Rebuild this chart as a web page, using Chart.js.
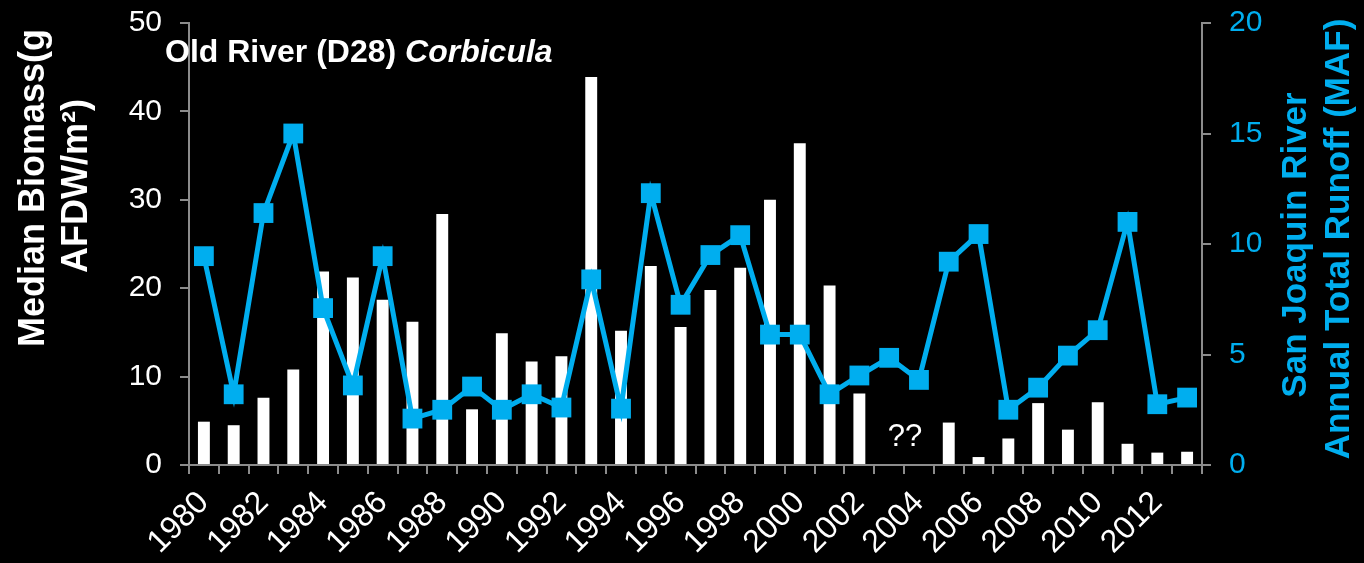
<!DOCTYPE html>
<html>
<head>
<meta charset="utf-8">
<script src="https://cdn.jsdelivr.net/npm/chart.js@4"></script>
<style>
  html, body { margin: 0; padding: 0; background: #000; }
  #wrap { width: 1364px; height: 563px; }
</style>
</head>
<body>
<div id="wrap"><canvas id="chart" width="1364" height="563"></canvas></div>
<script>
// ===== Old River (D28) Corbicula — biomass vs San Joaquin runoff =====
const years = [1980, 1981, 1982, 1983, 1984, 1985, 1986, 1987, 1988, 1989,
  1990, 1991, 1992, 1993, 1994, 1995, 1996, 1997, 1998, 1999,
  2000, 2001, 2002, 2003, 2004, 2005, 2006, 2007, 2008, 2009,
  2010, 2011, 2012, 2013];

// median biomass (g AFDW/m²), left axis; 2003-2004 missing ("??")
const biomass = [4.9, 4.5, 7.6, 10.8, 21.9, 21.2, 18.7, 16.2, 28.4, 6.3,
  14.9, 11.7, 12.3, 43.9, 15.2, 22.5, 15.6, 19.8, 22.3, 30.0,
  36.4, 20.3, 8.1, null, null, 4.8, 0.9, 3.0, 7.0, 4.0,
  7.1, 2.4, 1.4, 1.5];

// San Joaquin River annual total runoff (MAF), right axis
const runoff = [9.45, 3.2, 11.4, 15.0, 7.1, 3.6, 9.45, 2.1, 2.5, 3.55,
  2.5, 3.2, 2.6, 8.4, 2.55, 12.3, 7.25, 9.5, 10.4, 5.9,
  5.9, 3.2, 4.05, 4.85, 3.85, 9.2, 10.45, 2.5, 3.5, 4.95,
  6.1, 11.0, 2.75, 3.05];

const leftTicks = [0, 10, 20, 30, 40, 50];
const rightTicks = [0, 5, 10, 15, 20];

const FONT = '"Liberation Sans", Arial, sans-serif';
const BLUE = '#00AEEF';
const AXIS = '#8c8c8c';

// vertical axes: fixed width, no extra padding so the plot top sits at y=23
function fixVertical(width) {
  return s => {
    s.width = width;
    s.paddingTop = 0;
    s.paddingBottom = 0;
  };
}

const textPlugin = {
  id: 'texts',
  afterDraw(chart) {
    const ctx = chart.ctx;
    ctx.save();
    // chart title
    ctx.fillStyle = '#fff';
    ctx.textBaseline = 'alphabetic';
    ctx.textAlign = 'left';
    ctx.font = 'bold 32px ' + FONT;
    const t1 = 'Old River (D28) ';
    ctx.fillText(t1, 165, 62);
    const w1 = ctx.measureText(t1).width;
    ctx.font = 'italic bold 32px ' + FONT;
    ctx.fillText('Corbicula', 165 + w1, 62);

    // missing data note
    ctx.font = '31px ' + FONT;
    ctx.textAlign = 'center';
    ctx.fillText('??', 905, 446);

    // left axis title
    ctx.font = 'bold 36px ' + FONT;
    ctx.textBaseline = 'middle';
    ctx.save();
    ctx.translate(34, 188);
    ctx.rotate(-Math.PI / 2);
    ctx.fillText('Median Biomass(g', 0, 0);
    ctx.restore();
    ctx.save();
    ctx.translate(77, 186);
    ctx.rotate(-Math.PI / 2);
    ctx.fillText('AFDW/m²)', 0, 0);
    ctx.restore();

    // right axis title
    ctx.fillStyle = BLUE;
    ctx.font = 'bold 35px ' + FONT;
    ctx.save();
    ctx.translate(1296, 245);
    ctx.rotate(-Math.PI / 2);
    ctx.fillText('San Joaquin River', 0, 0);
    ctx.restore();
    ctx.save();
    ctx.translate(1339, 239);
    ctx.rotate(-Math.PI / 2);
    ctx.fillText('Annual Total Runoff (MAF)', 0, 0);
    ctx.restore();
    ctx.restore();
  }
};

const ctx = document.getElementById('chart').getContext('2d');
new Chart(ctx, {
  data: {
    labels: years.map(String),
    datasets: [{
      type: 'line',
      label: 'Runoff',
      data: runoff,
      yAxisID: 'y2',
      borderColor: BLUE,
      backgroundColor: BLUE,
      borderWidth: 5,
      pointStyle: 'rect',
      pointRadius: 14,
      pointBorderWidth: 0,
      pointBackgroundColor: BLUE,
      tension: 0,
      order: 0
    }, {
      type: 'bar',
      label: 'Biomass',
      data: biomass,
      yAxisID: 'y',
      backgroundColor: '#fff',
      borderWidth: 0,
      barPercentage: 0.4,
      categoryPercentage: 1,
      order: 1
    }]
  },
  options: {
    responsive: false,
    animation: false,
    layout: { padding: { top: 23, left: 0, right: 0, bottom: 0 } },
    plugins: { legend: { display: false }, tooltip: { enabled: false } },
    scales: {
      x: {
        type: 'category',
        offset: true,
        afterFit: s => { s.height = 98; s.paddingLeft = 0; s.paddingRight = 0; },
        grid: { offset: true, drawOnChartArea: false, drawTicks: true, tickLength: 9, color: AXIS, lineWidth: 2 },
        border: { color: AXIS, width: 2 },
        ticks: {
          color: '#fff', font: { family: FONT, size: 32 },
          autoSkip: false, minRotation: 45, maxRotation: 45, padding: 10,
          callback: (v, i) => (i % 2 === 0 ? years[i] : '')
        }
      },
      y: {
        position: 'left',
        min: 0, max: 50,
        afterFit: fixVertical(189),
        afterBuildTicks: s => { s.ticks = leftTicks.map(v => ({ value: v })); },
        grid: { drawOnChartArea: false, drawTicks: true, tickLength: 9, color: AXIS, lineWidth: 2 },
        border: { color: AXIS, width: 2 },
        ticks: { color: '#fff', font: { family: FONT, size: 30 }, padding: 18 }
      },
      y2: {
        position: 'right',
        min: 0, max: 20,
        afterFit: fixVertical(162),
        afterBuildTicks: s => { s.ticks = rightTicks.map(v => ({ value: v })); },
        grid: { drawOnChartArea: false, drawTicks: true, tickLength: 9, color: AXIS, lineWidth: 2 },
        border: { color: AXIS, width: 2 },
        ticks: { color: BLUE, font: { family: FONT, size: 30 }, padding: 18 }
      }
    }
  },
  plugins: [textPlugin]
});
</script>
</body>
</html>
